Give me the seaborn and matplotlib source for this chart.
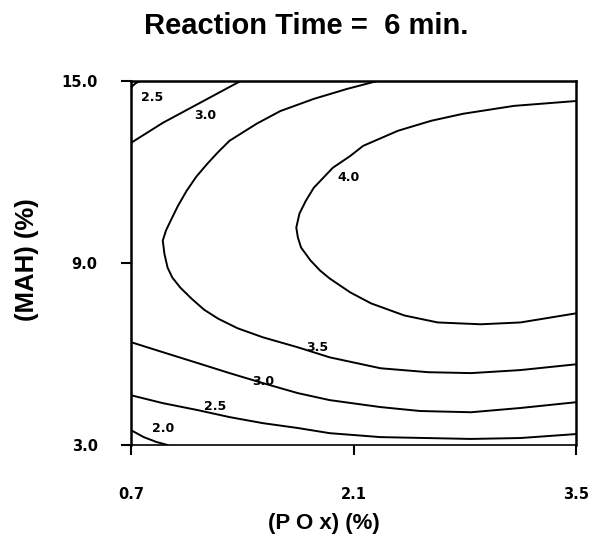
import matplotlib
matplotlib.use("Agg")
import matplotlib.pyplot as plt
import pandas as pd
import seaborn as sns

# ---------------- data ----------------
title = "Reaction Time =  6 min."
x_label = "(P O x) (%)"
y_label = "(MAH) (%)"
x_ticks = [0.7, 2.1, 3.5]
x_tick_labels = ["0.7", "2.1", "3.5"]
y_ticks = [3.0, 9.0, 15.0]
y_tick_labels = ["3.0", "9.0", "15.0"]

# contour 4.0 (open to the right)
c40_x = [3.50, 3.15, 2.90, 2.63, 2.42, 2.21, 2.08, 1.95, 1.89, 1.83, 1.77, 1.75, 1.74, 1.76, 1.80, 1.85,
         1.97, 2.08, 2.16, 2.38, 2.59, 2.79, 3.11, 3.50]
c40_y = [7.34, 7.04, 6.98, 7.04, 7.27, 7.67, 8.03, 8.49, 8.75, 9.08, 9.51, 9.84, 10.17, 10.63, 11.05, 11.48,
         12.14, 12.53, 12.86, 13.36, 13.69, 13.92, 14.18, 14.34]

# contour 3.5 (C shape)
c35_x = [3.50, 3.15, 2.84, 2.57, 2.27, 1.95, 1.75, 1.53, 1.37, 1.25, 1.16, 1.08, 1.01, 0.96, 0.93, 0.91,
         0.90, 0.92, 0.95, 0.995, 1.05, 1.11, 1.18, 1.245, 1.32, 1.49, 1.64, 1.85, 2.06, 2.25]
c35_y = [5.66, 5.47, 5.37, 5.40, 5.53, 5.89, 6.22, 6.55, 6.85, 7.16, 7.46, 7.83, 8.19, 8.52, 8.85, 9.31,
         9.74, 10.07, 10.40, 10.88, 11.38, 11.84, 12.27, 12.64, 13.03, 13.59, 14.01, 14.41, 14.74, 15.00]

# contour 3.0 (upper-left branch and lower branch)
c30a_x = [0.70, 0.90, 1.12, 1.39]
c30a_y = [12.96, 13.62, 14.24, 15.00]
c30b_x = [0.70, 0.90, 1.12, 1.32, 1.53, 1.75, 1.95, 2.27, 2.52, 2.84, 3.15, 3.50]
c30b_y = [6.39, 6.06, 5.70, 5.37, 5.04, 4.71, 4.48, 4.25, 4.12, 4.08, 4.22, 4.41]

# contour 2.5 (corner branch and lower branch)
c25a_x = [0.70, 0.71, 0.73, 0.76]
c25a_y = [14.74, 14.84, 14.93, 15.00]
c25b_x = [0.70, 0.90, 1.12, 1.32, 1.53, 1.75, 1.95, 2.27, 2.84, 3.15, 3.50]
c25b_y = [4.64, 4.38, 4.15, 3.92, 3.72, 3.56, 3.39, 3.26, 3.20, 3.23, 3.36]

# contour 2.0 (lower-left corner)
c20_x = [0.70, 0.78, 0.86, 0.93]
c20_y = [3.49, 3.26, 3.10, 3.00]

segments = [
    ("4.0", "a", c40_x, c40_y),
    ("3.5", "a", c35_x, c35_y),
    ("3.0", "a", c30a_x, c30a_y),
    ("3.0", "b", c30b_x, c30b_y),
    ("2.5", "a", c25a_x, c25a_y),
    ("2.5", "b", c25b_x, c25b_y),
    ("2.0", "a", c20_x, c20_y),
]

# contour labels
label_text = ["2.5", "3.0", "4.0", "3.5", "3.0", "2.5", "2.0"]
label_x = [0.83, 1.17, 2.07, 1.87, 1.53, 1.23, 0.90]
label_y = [14.44, 13.85, 11.81, 6.22, 5.10, 4.28, 3.56]

rows = []
for level, part, xs, ys in segments:
    for order, (xv, yv) in enumerate(zip(xs, ys)):
        rows.append({"x": xv, "y": yv, "seg": f"{level}-{part}", "order": order})
df = pd.DataFrame(rows)

# ---------------- drawing ----------------
sns.set_theme(style="white", rc={"text.color": "black", "axes.labelcolor": "black",
                                 "xtick.color": "black", "ytick.color": "black"})
plt.rcParams["font.family"] = ["Liberation Sans", "DejaVu Sans"]

fig = plt.figure(figsize=(5.93, 5.59), dpi=100)
ax = fig.add_axes([131 / 593, 1 - 445 / 559, 445 / 593, 364 / 559])

sns.lineplot(data=df, x="x", y="y", units="seg", estimator=None, sort=False,
             color="black", linewidth=1.4, legend=False, ax=ax,
             solid_joinstyle="round", solid_capstyle="round")

ax.set_xlim(0.7, 3.5)
ax.set_ylim(3.0, 15.0)

narrow = ["Liberation Sans Narrow", "DejaVu Sans"]
for t, xv, yv in zip(label_text, label_x, label_y):
    ax.text(xv, yv, t, ha="center", va="center", fontsize=9,
            fontweight="bold", family=narrow, color="black")

ax.set_xticks(x_ticks)
ax.set_xticklabels(x_tick_labels, fontsize=10.5, fontweight="bold", family=narrow)
ax.set_yticks(y_ticks)
ax.set_yticklabels(y_tick_labels, fontsize=10.5, fontweight="bold", family=narrow)
ax.tick_params(axis="x", direction="out", length=7, width=1.5, color="black", pad=23, bottom=True)
ax.tick_params(axis="y", direction="out", length=7, width=1.5, color="black", pad=17, left=True)
ax.set_xlabel("")
ax.set_ylabel("")

for side, sp in ax.spines.items():
    sp.set_visible(True)
    sp.set_color("black")
    sp.set_linewidth(1.8 if side != "bottom" else 1.2)

fig.text(306 / 593, 1 - 26 / 559, title, ha="center", va="center",
         fontsize=21, fontweight="bold", color="black")
fig.text(324 / 593, 1 - 523 / 559, x_label, ha="center", va="center",
         fontsize=16, fontweight="bold", color="black")
fig.text(27 / 593, 1 - 260 / 559, y_label, ha="center", va="center",
         rotation=90, fontsize=18.5, fontweight="bold", color="black")

fig.savefig("out.png", dpi=100, facecolor="white")
